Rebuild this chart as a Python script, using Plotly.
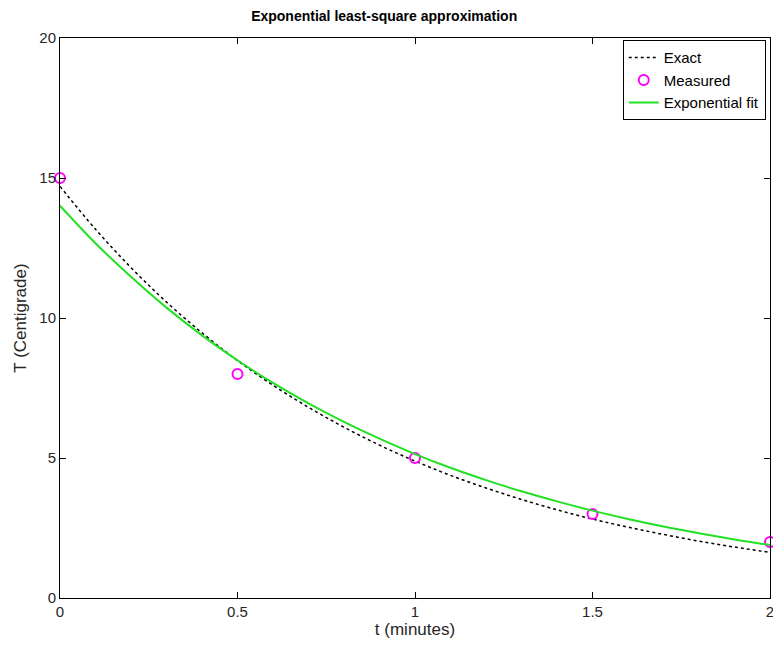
import plotly.graph_objects as go

# Data
t_meas = [0, 0.5, 1.0, 1.5, 2.0]
T_meas = [15, 8, 5, 3, 2]

t_curve = [0.0, 0.1, 0.2, 0.3, 0.4, 0.5, 0.6, 0.7, 0.8, 0.9, 1.0,
           1.1, 1.2, 1.3, 1.4, 1.5, 1.6, 1.7, 1.8, 1.9, 2.0]
T_exact = [14.70, 13.17, 11.80, 10.57, 9.47, 8.48, 7.60, 6.81, 6.10, 5.46, 4.89,
           4.38, 3.93, 3.52, 3.15, 2.82, 2.53, 2.27, 2.03, 1.82, 1.63]
T_fit = [14.01, 12.67, 11.47, 10.37, 9.38, 8.49, 7.68, 6.95, 6.29, 5.69, 5.14,
         4.65, 4.21, 3.81, 3.45, 3.12, 2.82, 2.55, 2.31, 2.09, 1.89]

x_ticks = [0, 0.5, 1, 1.5, 2]
x_labels = ["0", "0.5", "1", "1.5", "2"]
y_ticks = [0, 5, 10, 15, 20]
y_labels = ["0", "5", "10", "15", "20"]

FONT = "Liberation Sans"

fig = go.Figure()
fig.add_trace(go.Scatter(x=t_curve, y=T_exact, mode="lines", name="Exact",
                         line=dict(color="black", width=1.5, dash="dot", shape="spline")))
fig.add_trace(go.Scatter(x=t_meas, y=T_meas, mode="markers", name="Measured",
                         marker=dict(symbol="circle-open", size=10, color="#ff00ff",
                                     line=dict(width=2, color="#ff00ff")),
                         cliponaxis=False))
fig.add_trace(go.Scatter(x=t_curve, y=T_fit, mode="lines", name="Exponential fit",
                         line=dict(color="#22e022", width=2, shape="spline")))

axis_common = dict(showline=True, linecolor="black", linewidth=1, mirror="ticks",
                   ticks="inside", ticklen=6, tickcolor="black", showgrid=False,
                   zeroline=False, ticklabeloverflow="allow", automargin=False,
                   tickfont=dict(family=FONT, size=15, color="#262626"))

fig.update_layout(
    width=773, height=647,
    margin=dict(l=60, r=3, t=38, b=49, autoexpand=False),
    paper_bgcolor="white", plot_bgcolor="white",
    title=dict(text="<b>Exponential least-square approximation</b>", x=0.497, xanchor="center",
               y=0.975, yanchor="middle", font=dict(family=FONT, size=14, color="black")),
    xaxis=dict(range=[0, 2], tickvals=x_ticks, ticktext=x_labels,
               title=dict(text="t (minutes)", font=dict(family=FONT, size=17, color="#262626"), standoff=0),
               **axis_common),
    yaxis=dict(range=[0, 20], tickvals=y_ticks, ticktext=y_labels,
               title=dict(text="T (Centigrade)", font=dict(family=FONT, size=17, color="#262626"), standoff=8),
               **axis_common),
    legend=dict(x=0.994, y=0.996, xanchor="right", yanchor="top",
                bgcolor="white", bordercolor="black", borderwidth=1,
                font=dict(family=FONT, size=15, color="black"),
                tracegroupgap=0, itemwidth=30),
    showlegend=True,
)

fig.write_html("out.html")
